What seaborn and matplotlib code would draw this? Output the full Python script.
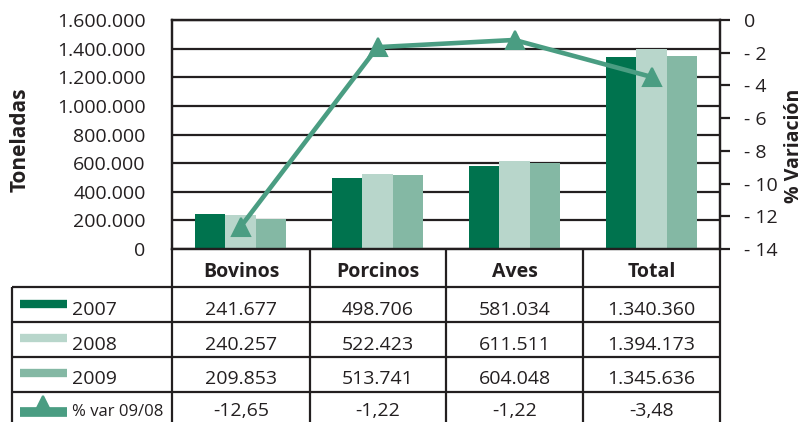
import numpy as np
import pandas as pd
import matplotlib
matplotlib.use("Agg")
import matplotlib.pyplot as plt
import seaborn as sns
from matplotlib.ticker import FuncFormatter

# ---------------- data ----------------
categories = ["Bovinos", "Porcinos", "Aves", "Total"]
years = ["2007", "2008", "2009"]
v2007 = [241677, 498706, 581034, 1340360]
v2008 = [240257, 522423, 611511, 1394173]
v2009 = [209853, 513741, 604048, 1345636]
var_plot = [-12.65, -1.66, -1.22, -3.48]          # % var 09/08 as drawn
var_labels = ["-12,65", "-1,22", "-1,22", "-3,48"]  # as printed in the table
var_name = "% var 09/08"
left_ticks = [0, 200000, 400000, 600000, 800000, 1000000, 1200000, 1400000, 1600000]
right_ticks = [0, -2, -4, -6, -8, -10, -12, -14]

# ---------------- style ----------------
INK = "#231f20"
bar_colors = ["#00734e", "#b8d6cb", "#84b8a4"]
line_color = "#4a9d82"

sns.set_theme(style="white")
plt.rcParams["font.family"] = ["Open Sans", "DejaVu Sans"]
plt.rcParams["text.color"] = INK

W, H = 805, 422
fig = plt.figure(figsize=(W / 100, H / 100), dpi=100)


def fx(px):
    return px / W


def fy(py):
    return 1 - py / H


def thousands(v):
    return f"{int(round(v)):,}".replace(",", ".")


L, R, T, B = 172, 720, 20, 249
ax = fig.add_axes([fx(L), fy(B), (R - L) / W, (B - T) / H])

df = pd.DataFrame({
    "cat": categories * 3,
    "year": [y for y in years for _ in categories],
    "val": v2007 + v2008 + v2009,
})
sns.barplot(data=df, x="cat", y="val", hue="year", order=categories,
            hue_order=years, palette=bar_colors, width=0.67, saturation=1,
            linewidth=0, legend=False, errorbar=None, ax=ax, zorder=2)
ax.set_axisbelow(True)
ax.yaxis.grid(True, color=INK, lw=1.6)
ax.set_ylim(0, 1600000)
ax.set_yticks(left_ticks)
ax.yaxis.set_major_formatter(FuncFormatter(lambda v, p: thousands(v)))
ax.tick_params(axis="y", length=0, pad=19, labelsize=14, labelcolor=INK)
ax.set_xticks([])
ax.set_xlabel("")
ax.set_ylabel("")
for s in ax.spines.values():
    s.set_color(INK)
    s.set_linewidth(1.6)

ax2 = ax.twinx()
sns.lineplot(x=np.arange(len(categories)), y=var_plot, ax=ax2, color=line_color,
             lw=3.3, marker="^", markersize=13, markeredgecolor=line_color,
             markeredgewidth=1.5, zorder=3)
ax2.set_ylim(-14, 0)
ax2.set_yticks(right_ticks)
ax2.set_yticklabels(["0" if t == 0 else "- " + str(abs(t)) for t in right_ticks])
ax2.tick_params(axis="y", direction="out", length=7, width=1.6, color=INK,
                pad=10, labelsize=14, labelcolor=INK, right=True)
ax2.set_ylabel("")
for s in ax2.spines.values():
    s.set_color(INK)
    s.set_linewidth(1.6)
ax.set_xlim(-0.5, len(categories) - 0.5)

fig.text(fx(20), fy(140), "Toneladas", rotation=90, ha="center", va="center",
         fontsize=15, fontweight="bold", color=INK)
fig.text(fx(804), fy(146), "% Variación", rotation=90, ha="right", va="center",
         fontsize=14, fontweight="bold", color=INK)

# ---------------- data table ----------------
tab = fig.add_axes([0, 0, 1, 1])
tab.set_xlim(0, W)
tab.set_ylim(H, 0)
tab.axis("off")
tab.patch.set_alpha(0)

cols = [172, 310, 446, 583, 720]
row_lines = [287, 322, 357, 392]
lw = 1.6
for x in cols:
    tab.plot([x, x], [B, H], color=INK, lw=lw, solid_capstyle="butt")
tab.plot([12, 12], [row_lines[0], H], color=INK, lw=lw, solid_capstyle="butt")
for y in row_lines:
    tab.plot([12, R], [y, y], color=INK, lw=lw, solid_capstyle="butt")

centers = [(cols[i] + cols[i + 1]) / 2 for i in range(len(categories))]
for cx, c in zip(centers, categories):
    tab.text(cx, 277, c, ha="center", va="baseline", fontsize=14,
             fontweight="bold", color=INK)

series = [v2007, v2008, v2009]
baselines = [315, 349.5, 384]
sw_centers = [303.5, 337.5, 372.5]
for vals, yr, col, bl, sc in zip(series, years, bar_colors, baselines, sw_centers):
    tab.plot([20, 67], [sc, sc], color=col, lw=6, solid_capstyle="butt")
    tab.text(72, bl, yr, ha="left", va="baseline", fontsize=14, color=INK)
    for cx, v in zip(centers, vals):
        tab.text(cx, bl, thousands(v), ha="center", va="baseline",
                 fontsize=14, color=INK)

tab.plot([20, 67], [411.5, 411.5], color=line_color, lw=7, solid_capstyle="butt")
tab.plot([42.5], [405], marker="^", markersize=13, color=line_color,
         markeredgecolor=line_color, markeredgewidth=1.5)
tab.text(72, 416.5, var_name, ha="left", va="baseline", fontsize=12, color=INK)
for cx, s in zip(centers, var_labels):
    tab.text(cx, 416.5, s, ha="center", va="baseline", fontsize=14, color=INK)

fig.savefig("out.png", dpi=100)
